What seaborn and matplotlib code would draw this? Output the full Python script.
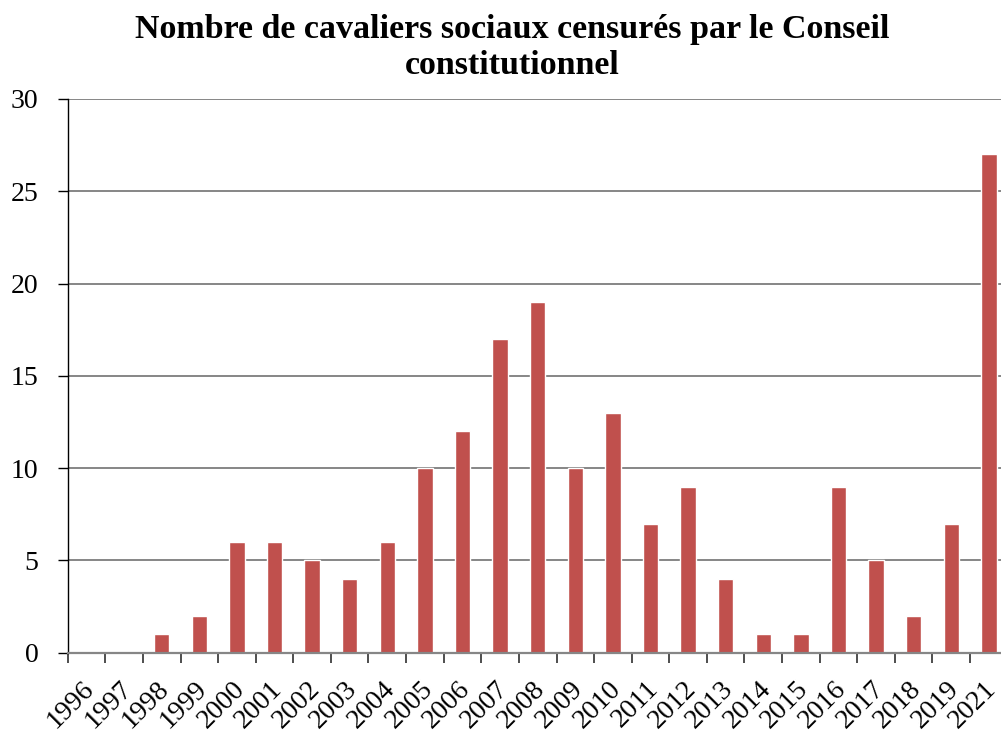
import matplotlib
matplotlib.use('Agg')
import matplotlib.pyplot as plt
from matplotlib.transforms import ScaledTranslation
import seaborn as sns

# Data (no 2020 category in the original)
years = ['1996', '1997', '1998', '1999', '2000', '2001', '2002', '2003',
         '2004', '2005', '2006', '2007', '2008', '2009', '2010', '2011',
         '2012', '2013', '2014', '2015', '2016', '2017', '2018', '2019',
         '2021']
counts = [0, 0, 1, 2, 6, 6, 5, 4, 6, 10, 12, 17, 19, 10, 13, 7,
          9, 4, 1, 1, 9, 5, 2, 7, 27]
yticks = [0, 5, 10, 15, 20, 25, 30]

title = 'Nombre de cavaliers sociaux censurés par le Conseil\nconstitutionnel'

sns.set_style('white')
plt.rcParams['font.family'] = ['Liberation Serif', 'DejaVu Serif']
plt.rcParams['text.color'] = 'black'
plt.rcParams['xtick.color'] = 'black'
plt.rcParams['ytick.color'] = 'black'

bar_color = '#C0504D'
grid_color = '#868686'

fig = plt.figure(figsize=(10.01, 7.34), dpi=100)
# plot area runs past the right edge, like the cropped original
ax = fig.add_axes([67.7 / 1001, (734 - 652.7) / 734, 940 / 1001, (652.7 - 99) / 734])

sns.barplot(x=years, y=counts, order=years, color=bar_color, saturation=1,
            width=0.41, ax=ax)

ax.set_xlim(-0.5, len(years) - 0.5)
ax.set_ylim(0, 30)
ax.set_yticks(yticks)
ax.set_yticklabels([str(v) for v in yticks])
ax.set_axisbelow(True)
ax.yaxis.grid(True, color=grid_color, linewidth=1.4)
ax.xaxis.grid(False)

for side in ['top', 'right']:
    ax.spines[side].set_visible(False)
ax.spines['left'].set_color('black')
ax.spines['left'].set_linewidth(1.0)
ax.spines['bottom'].set_color(grid_color)
ax.spines['bottom'].set_linewidth(1.6)

# x ticks sit on category boundaries, labels at category centres
ax.set_xticks([i + 0.5 for i in range(-1, len(years))], minor=False)
ax.set_xticklabels([''] * (len(years) + 1))
ax.set_xticks(range(len(years)), minor=True)
ax.set_xticklabels(years, minor=True, rotation=45, ha='right',
                   rotation_mode='anchor', fontsize=20, color='black')
ax.tick_params(axis='x', which='major', direction='out', length=7,
               width=1.2, color='#303030', bottom=True)
ax.tick_params(axis='x', which='minor', length=0, pad=17)
ax.tick_params(axis='y', direction='out', length=7, width=1.0,
               color='black', left=True, labelsize=20, labelcolor='black',
               pad=14)

shift = ScaledTranslation(-5 / 100, 0, fig.dpi_scale_trans)
for lab in ax.get_xticklabels(minor=True):
    lab.set_transform(lab.get_transform() + shift)

ax.set_xlabel('')
ax.set_ylabel('')

fig.text(0.512, 0.981, title, ha='center', va='top', fontsize=24.5,
         fontweight='bold', linespacing=1.2, color='black')

fig.savefig('out.png', dpi=100)
